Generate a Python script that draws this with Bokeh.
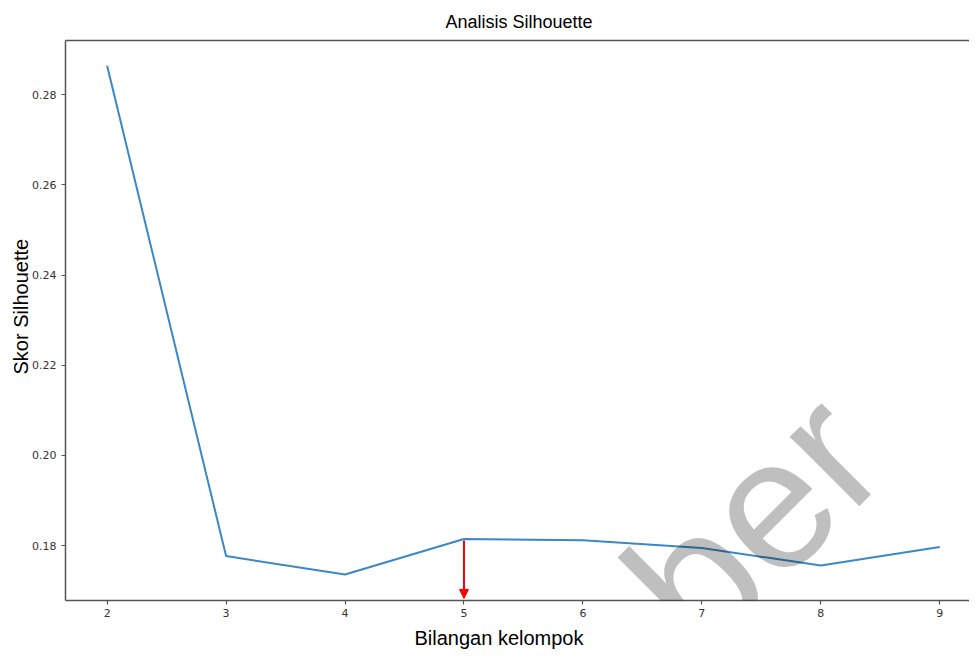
import math
from bokeh.plotting import figure
from bokeh.models import (FixedTicker, LinearAxis, Label, Arrow, NormalHead,
                          Range1d, CustomJSTickFormatter, Title)
from bokeh.embed import file_html
from bokeh.resources import INLINE

# ---- data ----
k_values = [2, 3, 4, 5, 6, 7, 8, 9]
silhouette = [0.2864, 0.1777, 0.1736, 0.1815, 0.1812, 0.1795, 0.1756, 0.1797]
y_ticks = [0.18, 0.20, 0.22, 0.24, 0.26, 0.28]
x_ticks = [2, 3, 4, 5, 6, 7, 8, 9]
best_k = 5

title_text = "Analisis Silhouette"
xlabel_text = "Bilangan kelompok"
ylabel_text = "Skor Silhouette"
watermark_text = "aber"

AXIS_COLOR = "#555555"
TICK_TEXT = "#333333"

p = figure(width=969, height=654, output_backend="svg", toolbar_location=None,
           x_range=Range1d(1.65, 9.25), y_range=Range1d(0.16785, 0.2920),
           min_border_left=65, min_border_right=0, min_border_top=40,
           min_border_bottom=52)
p.outline_line_color = None
p.xgrid.visible = False
p.ygrid.visible = False
p.background_fill_color = "white"
p.border_fill_color = "white"

p.title.text = title_text
p.title.align = "left"
p.title.offset = 380
p.title.text_font = "Liberation Sans"
p.title.text_font_size = "18px"
p.title.text_font_style = "normal"
p.title.text_color = "black"
p.title.standoff = 18

# line
p.line(k_values, silhouette, line_color="#3a88c6", line_width=2)

# axes styling
for ax in (p.xaxis[0], p.yaxis[0]):
    ax.axis_line_color = AXIS_COLOR
    ax.axis_line_width = 1.5
    ax.major_tick_line_color = AXIS_COLOR
    ax.major_tick_line_width = 1.2
    ax.major_tick_out = 4
    ax.major_tick_in = 0
    ax.minor_tick_line_color = None
    ax.major_label_text_font = "DejaVu Sans"
    ax.major_label_text_font_size = "11px"
    ax.major_label_text_color = TICK_TEXT

p.xaxis[0].ticker = FixedTicker(ticks=x_ticks)
p.xaxis[0].major_label_standoff = 4
p.yaxis[0].ticker = FixedTicker(ticks=y_ticks)
p.yaxis[0].major_label_standoff = 5
p.yaxis[0].formatter = CustomJSTickFormatter(code="return tick.toFixed(2);")

# top border line
top = LinearAxis(ticker=FixedTicker(ticks=[]), major_label_text_font_size="0px",
                 axis_line_color=AXIS_COLOR, axis_line_width=1.5,
                 major_tick_out=0, major_tick_in=0, minor_tick_out=0, minor_tick_in=0,
                 minor_tick_line_color=None, major_tick_line_color=None)
p.add_layout(top, "above")

# axis labels (as side titles for exact placement)
xl = Title(text=xlabel_text, align="left", offset=349, text_font="Liberation Sans",
           text_font_size="20px", text_font_style="normal", text_color="black",
           standoff=11)
p.add_layout(xl, "below")
yl = Title(text=ylabel_text, align="left", offset=226, text_font="Liberation Sans",
           text_font_size="20px", text_font_style="normal", text_color="black",
           standoff=-5)
p.add_layout(yl, "left")

# red arrow at best k
p.add_layout(Arrow(x_start=best_k, y_start=0.18116, x_end=best_k, y_end=0.1683,
                   line_color="red", line_width=2,
                   end=NormalHead(size=9, fill_color="red", line_color="red", line_width=1)))

# watermark
p.add_layout(Label(x=6.020, y=0.14819, text=watermark_text, angle=math.pi / 4,
                   text_align="left", text_baseline="alphabetic",
                   text_font="Liberation Sans", text_font_size="186px",
                   text_color="black", text_alpha=0.25))

open("out.html", "w").write(file_html(p, INLINE))
